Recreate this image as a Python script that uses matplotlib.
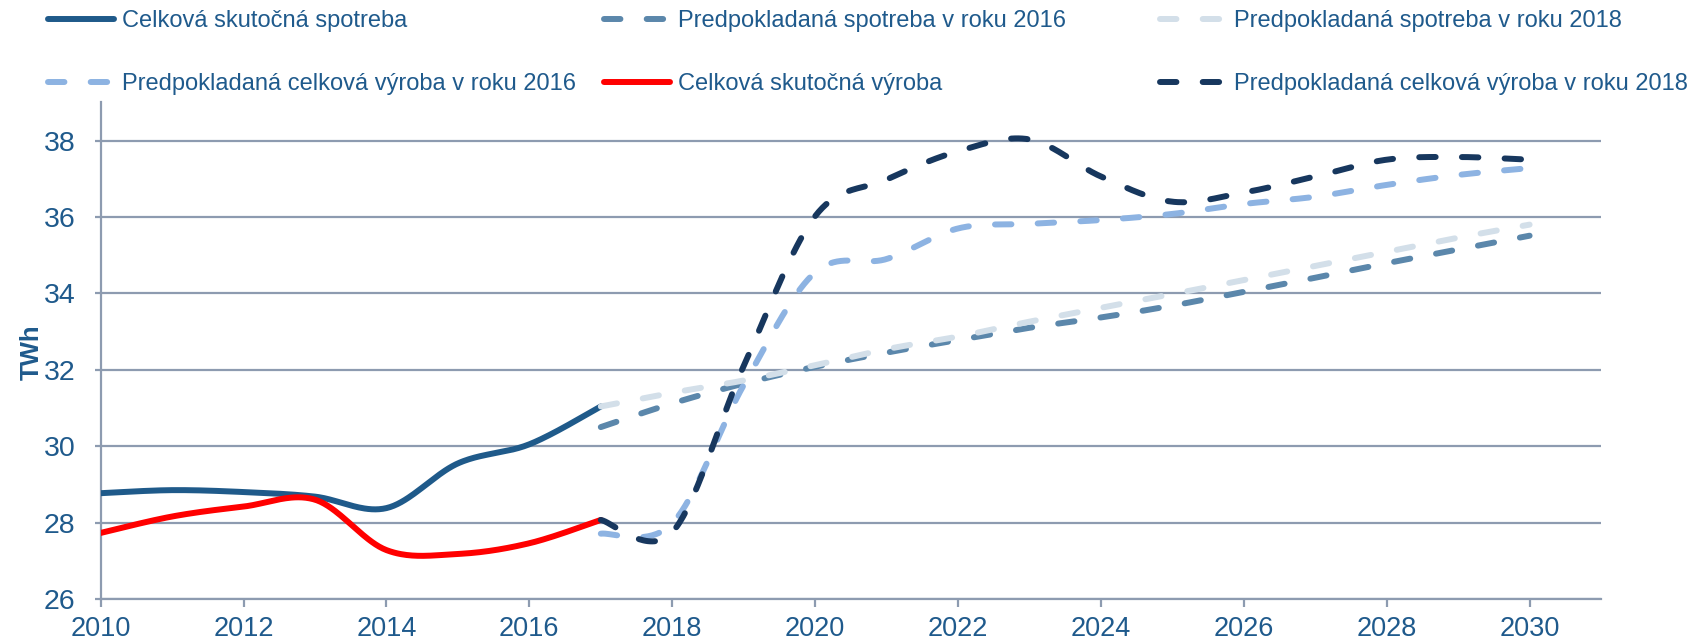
import numpy as np
import matplotlib
matplotlib.use("Agg")
import matplotlib.pyplot as plt

plt.rcParams['font.family'] = ['Liberation Sans', 'DejaVu Sans']

# ---- data (TWh) ----
years_actual = [2010, 2011, 2012, 2013, 2014, 2015, 2016, 2017]
spotreba_skutocna = [28.77, 28.85, 28.80, 28.68, 28.38, 29.55, 30.05, 31.04]
vyroba_skutocna = [27.73, 28.16, 28.42, 28.60, 27.28, 27.18, 27.46, 28.07]

years_forecast = [2017, 2018, 2019, 2020, 2021, 2022, 2023, 2024, 2025, 2026, 2027, 2028, 2029, 2030]
spotreba_2016 = [30.50, 31.12, 31.64, 32.08, 32.45, 32.78, 33.10, 33.37, 33.68, 34.04, 34.41, 34.79, 35.15, 35.51]
spotreba_2018 = [31.04, 31.40, 31.72, 32.12, 32.54, 32.87, 33.26, 33.62, 33.98, 34.35, 34.72, 35.09, 35.46, 35.80]
vyroba_2016 = [27.71, 27.98, 31.60, 34.55, 34.90, 35.70, 35.82, 35.92, 36.08, 36.34, 36.53, 36.84, 37.10, 37.28]
vyroba_2018 = [28.07, 27.75, 32.10, 36.02, 36.98, 37.72, 38.03, 37.06, 36.40, 36.64, 37.06, 37.50, 37.57, 37.50]

labels = ["Celková skutočná spotreba", "Predpokladaná spotreba v roku 2016",
          "Predpokladaná spotreba v roku 2018", "Predpokladaná celková výroba v roku 2016",
          "Celková skutočná výroba", "Predpokladaná celková výroba v roku 2018"]
x_ticks = [2010, 2012, 2014, 2016, 2018, 2020, 2022, 2024, 2026, 2028, 2030]
y_ticks = [26, 28, 30, 32, 34, 36, 38]

TEXT = "#1F5A8C"
GRID = "#8D9BB0"
colors = ["#1F5A8A", "#5B87AB", "#D3DFE9", "#8DB3E2", "#FF0000", "#17375E"]


def smooth(xs, ys, n=40):
    """Excel-style smoothed line (Bezier through the points)."""
    P = np.column_stack([xs, ys]).astype(float)
    m = len(P)
    out = [P[0:1]]
    t = np.linspace(0, 1, n)[1:, None]
    for i in range(m - 1):
        p0, p3 = P[i], P[i + 1]
        pm = P[i - 1] if i > 0 else P[i]
        pp = P[i + 2] if i + 2 < m else P[i + 1]
        c1 = p0 + (p3 - pm) / 6.0
        c2 = p3 - (pp - p0) / 6.0
        seg = (1 - t) ** 3 * p0 + 3 * (1 - t) ** 2 * t * c1 + 3 * (1 - t) * t ** 2 * c2 + t ** 3 * p3
        out.append(seg)
    A = np.vstack(out)
    return A[:, 0], A[:, 1]


fig = plt.figure(figsize=(16.98, 6.41), dpi=100)
ax = fig.add_axes([0.0593, 0.0655, 0.9429 - 0.0593, 0.8403 - 0.0655])

LW = 4.3
DASH = (0, (2.75, 4.4))

series = [
    (years_actual, spotreba_skutocna, "-"),
    (years_forecast, spotreba_2016, DASH),
    (years_forecast, spotreba_2018, DASH),
    (years_forecast, vyroba_2016, DASH),
    (years_actual, vyroba_skutocna, "-"),
    (years_forecast, vyroba_2018, DASH),
]
handles = []
for (xs, ys, ls), c, lab in zip(series, colors, labels):
    sx, sy = smooth(xs, ys)
    h, = ax.plot(sx, sy, color=c, lw=LW, linestyle=ls, label=lab,
                 dash_capstyle='round', solid_capstyle='round', zorder=3)
    handles.append(h)

ax.set_xlim(2010, 2031)
ax.set_ylim(26, 39)
ax.set_xticks(x_ticks)
ax.set_yticks(y_ticks)
ax.yaxis.grid(True, color=GRID, lw=1.6)
ax.set_axisbelow(True)
for s in ["top", "right"]:
    ax.spines[s].set_visible(False)
for s in ["left", "bottom"]:
    ax.spines[s].set_color(GRID)
    ax.spines[s].set_linewidth(1.6)
ax.tick_params(axis='x', colors=GRID, labelcolor=TEXT, labelsize=19.5, width=1.6, length=6, pad=6)
ax.tick_params(axis='y', colors=GRID, labelcolor=TEXT, labelsize=20.5, width=1.6, length=4, pad=14)
ax.set_ylabel("TWh", color=TEXT, fontsize=18.5, fontweight='bold')
ax.yaxis.set_label_coords(-0.038, 0.497)

col_x = [48, 604, 1160]
for k in range(3):
    hs = [handles[k], handles[k + 3]]
    fig.legend(handles=hs, labels=[h.get_label() for h in hs], loc='upper left',
               bbox_to_anchor=(col_x[k] / 1698, 1 - 10.5 / 641), frameon=False,
               fontsize=17, handlelength=2.8, handletextpad=0.35, borderpad=0,
               borderaxespad=0, labelspacing=1.73, labelcolor=TEXT)

fig.savefig("out.png", dpi=100)
